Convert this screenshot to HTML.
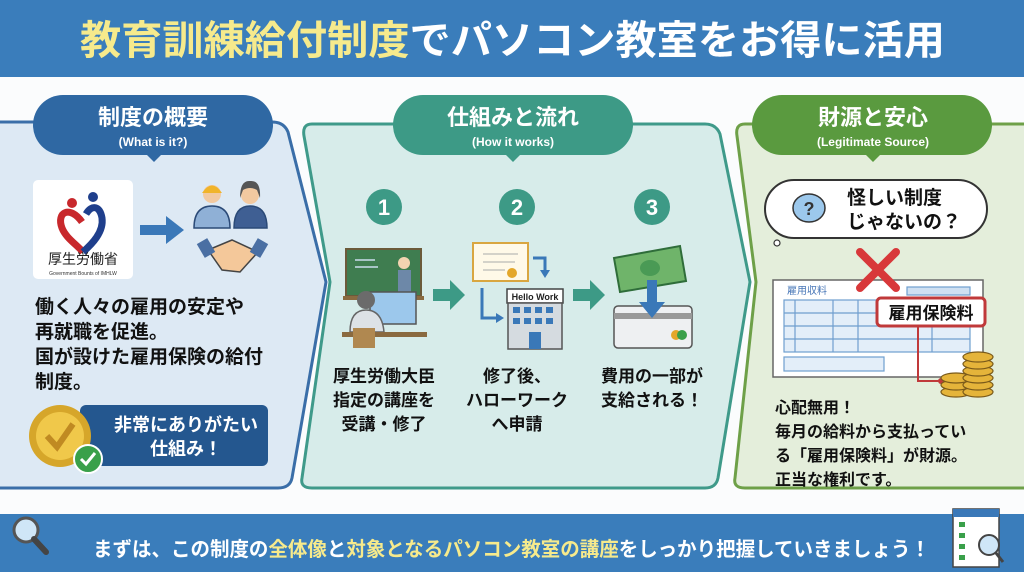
<!DOCTYPE html>
<html><head><meta charset="utf-8"><style>
html,body{margin:0;padding:0;background:#fff;}
svg{display:block;}
text{font-family:"Liberation Sans","Noto Sans CJK JP",sans-serif;font-weight:bold;}
</style></head><body>
<svg width="1024" height="572" viewBox="0 0 1024 572" xmlns="http://www.w3.org/2000/svg">
<rect width="1024" height="572" fill="#fbfcfd"/>
<!-- header -->
<rect x="0" y="0" width="1024" height="77" fill="#3a7dbb"/>
<text x="80" y="54" font-size="40" textLength="865" lengthAdjust="spacingAndGlyphs" fill="#fff"><tspan fill="#f6ea8c">教育訓練給付制度</tspan>でパソコン教室をお得に活用</text>

<!-- left panel -->
<path d="M-10,122 L272,122 Q284,122 288,132 L326,282 L292,478 Q290,488 278,488 L-10,488 Z" fill="#dde9f4" stroke="#3a6ea8" stroke-width="3"/>
<!-- middle panel -->
<path d="M312,124 L705,124 Q716,124 720,134 L750,282 L718,478 Q716,488 705,488 L312,488 Q300,488 302,478 L330,282 L304,136 Q302,124 312,124 Z" fill="#d7ecea" stroke="#3f9a8a" stroke-width="3"/>
<!-- right panel -->
<path d="M745,124 L1030,124 L1030,488 L745,488 Q733,488 735,478 L756,282 L737,136 Q735,124 745,124 Z" fill="#e4eedb" stroke="#6ea048" stroke-width="3"/>

<!-- tabs -->
<rect x="33" y="95" width="240" height="60" rx="30" fill="#2f68a3"/>
<path d="M146,154 L154,162 L162,154 Z" fill="#2f68a3"/>
<text x="153" y="125" font-size="22" text-anchor="middle" fill="#fff">制度の概要</text>
<text x="153" y="146" font-size="12" text-anchor="middle" fill="#fff">(What is it?)</text>

<rect x="393" y="95" width="240" height="60" rx="30" fill="#3d9a86"/>
<path d="M505,154 L513,162 L521,154 Z" fill="#3d9a86"/>
<text x="513" y="125" font-size="22" text-anchor="middle" fill="#fff">仕組みと流れ</text>
<text x="513" y="146" font-size="12" text-anchor="middle" fill="#fff">(How it works)</text>

<rect x="752" y="95" width="240" height="60" rx="30" fill="#5a9a3f"/>
<path d="M865,154 L873,162 L881,154 Z" fill="#5a9a3f"/>
<text x="873" y="125" font-size="22" text-anchor="middle" fill="#fff">財源と安心</text>
<text x="873" y="146" font-size="12" text-anchor="middle" fill="#fff">(Legitimate Source)</text>

<!-- left content -->
<rect x="33" y="180" width="100" height="99" rx="5" fill="#fff"/>
<path d="M82,222 C70,205 56,212 62,228 C66,238 76,244 83,252" fill="none" stroke="#c8282c" stroke-width="7"/>
<path d="M83,252 C92,244 104,232 102,218 C100,206 92,204 86,214" fill="none" stroke="#1f3f8c" stroke-width="7"/>
<circle cx="72" cy="203" r="5" fill="#c8282c"/><circle cx="93" cy="197" r="5" fill="#1f3f8c"/>
<text x="83" y="264" font-size="14" text-anchor="middle" fill="#222" style="font-weight:normal">厚生労働省</text>
<text x="83" y="275" font-size="5" text-anchor="middle" fill="#333" style="font-weight:normal">Government Bounts of IMHLW</text>
<path d="M140,225 L166,225 L166,216 L184,230 L166,244 L166,235 L140,235 Z" fill="#3a78b8"/>
<circle cx="212" cy="194" r="9" fill="#f2c9a0"/><path d="M202,193 Q212,178 222,193 Z" fill="#f0b42a"/>
<path d="M194,228 Q194,206 212,206 Q230,206 230,228 Z" fill="#8fb0d6" stroke="#2b4a77" stroke-width="1.5"/>
<circle cx="250" cy="195" r="9" fill="#f2c9a0"/><path d="M240,198 Q240,180 250,181 Q261,180 260,198 L257,190 Q250,186 243,190 Z" fill="#555"/>
<path d="M234,228 Q234,206 250,206 Q267,206 267,228 Z" fill="#3f5f93" stroke="#2b4a77" stroke-width="1.5"/>
<path d="M208,250 L232,240 L258,252 L240,272 L222,270 Z" fill="#f4c89a" stroke="#444" stroke-width="1.5"/>
<rect x="200" y="240" width="12" height="16" fill="#4a6fa3" transform="rotate(-30 206 248)"/>
<rect x="253" y="240" width="12" height="16" fill="#4a6fa3" transform="rotate(30 259 248)"/>
<g font-size="19" fill="#111">
<text x="35" y="313">働く人々の雇用の安定や</text>
<text x="35" y="338">再就職を促進。</text>
<text x="35" y="363">国が設けた雇用保険の給付</text>
<text x="35" y="388">制度。</text>
</g>
<rect x="80" y="405" width="188" height="61" rx="6" fill="#24578f"/>
<text x="186" y="431" font-size="18" text-anchor="middle" fill="#fff">非常にありがたい</text>
<text x="186" y="455" font-size="18" text-anchor="middle" fill="#fff">仕組み！</text>
<circle cx="60" cy="436" r="31" fill="#d6a62a"/><circle cx="60" cy="436" r="24" fill="#f0c84a"/>
<path d="M47,436 L57,447 L73,424" fill="none" stroke="#c08a22" stroke-width="6"/>
<circle cx="88" cy="459" r="14" fill="#3aa04a" stroke="#fff" stroke-width="2"/>
<path d="M81,459 L86,464 L95,453" fill="none" stroke="#fff" stroke-width="3"/>

<!-- middle content -->
<g fill="#3d9a86"><circle cx="384" cy="207" r="18"/><circle cx="517" cy="207" r="18"/><circle cx="652" cy="207" r="18"/></g>
<g font-size="22" fill="#fff" text-anchor="middle"><text x="384" y="215">1</text><text x="517" y="215">2</text><text x="652" y="215">3</text></g>
<rect x="346" y="249" width="75" height="47" fill="#3f7d50" stroke="#6b5a3a" stroke-width="2"/>
<line x1="355" y1="260" x2="375" y2="260" stroke="#cde" stroke-width="1.5"/><line x1="355" y1="267" x2="378" y2="267" stroke="#cde" stroke-width="1.5"/>
<circle cx="404" cy="263" r="6" fill="#f2d3b0"/><rect x="398" y="270" width="13" height="22" fill="#6d88a8"/>
<rect x="343" y="296" width="81" height="4" fill="#8a6a40"/>
<rect x="370" y="292" width="46" height="32" fill="#9cc8ec" stroke="#555" stroke-width="1.5"/>
<circle cx="366" cy="300" r="9" fill="#6b6b6b"/>
<path d="M350,332 Q350,310 366,310 Q382,310 384,332 Z" fill="#dde2e6" stroke="#666" stroke-width="1.5"/>
<rect x="342" y="332" width="85" height="5" fill="#8a6a40"/><rect x="353" y="328" width="22" height="20" fill="#b08850"/>
<path d="M433,289 L450,289 L450,280 L465,295 L450,310 L450,301 L433,301 Z" fill="#3d9a86"/>
<path d="M573,289 L590,289 L590,280 L605,295 L590,310 L590,301 L573,301 Z" fill="#3d9a86"/>
<rect x="473" y="243" width="55" height="38" fill="#fff9e8" stroke="#d9a640" stroke-width="2"/>
<line x1="483" y1="254" x2="518" y2="254" stroke="#aaa"/><line x1="483" y1="262" x2="515" y2="262" stroke="#aaa"/><line x1="483" y1="270" x2="505" y2="270" stroke="#aaa"/>
<circle cx="512" cy="273" r="5" fill="#e4a72a"/>
<path d="M533,258 L545,258 L545,272" fill="none" stroke="#3a78b8" stroke-width="3"/><path d="M540,270 L550,270 L545,278 Z" fill="#3a78b8"/>
<path d="M482,288 L482,318 L498,318" fill="none" stroke="#3a78b8" stroke-width="3"/><path d="M496,313 L504,318 L496,323 Z" fill="#3a78b8"/>
<rect x="507" y="289" width="56" height="14" fill="#fff" stroke="#444" stroke-width="1.5"/>
<text x="535" y="300" font-size="9" text-anchor="middle" fill="#222">Hello Work</text>
<rect x="508" y="303" width="54" height="46" fill="#d5dbe0" stroke="#555" stroke-width="1.5"/>
<g fill="#3a78b8"><rect x="513" y="307" width="7" height="6"/><rect x="524" y="307" width="7" height="6"/><rect x="535" y="307" width="7" height="6"/><rect x="546" y="307" width="7" height="6"/>
<rect x="513" y="318" width="7" height="6"/><rect x="524" y="318" width="7" height="6"/><rect x="535" y="318" width="7" height="6"/><rect x="546" y="318" width="7" height="6"/>
<rect x="529" y="332" width="12" height="17"/></g>
<path d="M614,258 L680,246 L686,281 L620,292 Z" fill="#6fb46a" stroke="#2f6d3a" stroke-width="2"/>
<ellipse cx="650" cy="268" rx="10" ry="8" fill="#4a9a55"/>
<rect x="614" y="306" width="78" height="42" rx="4" fill="#eef0f2" stroke="#555" stroke-width="1.5"/>
<rect x="614" y="313" width="78" height="6" fill="#999"/>
<circle cx="676" cy="335" r="5" fill="#e4a72a"/><circle cx="682" cy="335" r="5" fill="#3aa04a"/>
<path d="M647,280 L657,280 L657,302 L665,302 L652,318 L639,302 L647,302 Z" fill="#3a78b8"/>
<g font-size="17" fill="#111" text-anchor="middle">
<text x="384" y="382">厚生労働大臣</text><text x="384" y="406">指定の講座を</text><text x="384" y="430">受講・修了</text>
<text x="517" y="382">修了後、</text><text x="517" y="406">ハローワーク</text><text x="517" y="430">へ申請</text>
<text x="652" y="382">費用の一部が</text><text x="652" y="406">支給される！</text>
</g>

<!-- right content -->
<rect x="765" y="180" width="222" height="58" rx="29" fill="#fff" stroke="#333" stroke-width="2"/>
<circle cx="777" cy="243" r="3" fill="#fff" stroke="#333" stroke-width="1.2"/>
<ellipse cx="809" cy="208" rx="16" ry="14" fill="#9cc8ec" stroke="#333" stroke-width="1.5"/>
<text x="809" y="215" font-size="18" text-anchor="middle" fill="#333">?</text>
<text x="847" y="204" font-size="19" fill="#111">怪しい制度</text>
<text x="847" y="228" font-size="19" fill="#111">じゃないの？</text>
<rect x="773" y="280" width="210" height="97" fill="#fff" stroke="#666" stroke-width="1.5"/>
<text x="787" y="294" font-size="10" fill="#4a78b8" style="font-weight:normal">雇用収料</text>
<g fill="none" stroke="#6f9fcf" stroke-width="1.2">
<rect x="784" y="300" width="186" height="52" fill="#e3eef9"/>
<line x1="784" y1="313" x2="970" y2="313"/><line x1="784" y1="326" x2="970" y2="326"/><line x1="784" y1="339" x2="970" y2="339"/>
<line x1="795" y1="300" x2="795" y2="352"/><line x1="833" y1="300" x2="833" y2="352"/><line x1="858" y1="300" x2="858" y2="352"/><line x1="932" y1="300" x2="932" y2="352"/>
<rect x="784" y="357" width="100" height="14" fill="#e3eef9"/><rect x="907" y="287" width="63" height="8" fill="#cfe0f2"/>
</g>
<path d="M860,252 L896,288 M896,252 L860,288" stroke="#d8383a" stroke-width="8" stroke-linecap="round"/>
<rect x="877" y="298" width="108" height="28" rx="4" fill="#fff" stroke="#c0393a" stroke-width="3"/>
<text x="931" y="319" font-size="17" text-anchor="middle" fill="#111">雇用保険料</text>
<path d="M918,326 L918,381 L941,381" fill="none" stroke="#c0393a" stroke-width="2"/><circle cx="941" cy="381" r="3" fill="#c0393a"/>
<g fill="#e5b43a" stroke="#7a5a1a" stroke-width="1.2">
<ellipse cx="956" cy="392" rx="15" ry="5"/><ellipse cx="956" cy="385" rx="15" ry="5"/><ellipse cx="956" cy="378" rx="15" ry="5"/>
<ellipse cx="978" cy="392" rx="15" ry="5"/><ellipse cx="978" cy="385" rx="15" ry="5"/><ellipse cx="978" cy="378" rx="15" ry="5"/><ellipse cx="978" cy="371" rx="15" ry="5"/><ellipse cx="978" cy="364" rx="15" ry="5"/><ellipse cx="978" cy="357" rx="15" ry="5"/>
</g>
<g font-size="16" fill="#111">
<text x="775" y="413">心配無用！</text>
<text x="775" y="437">毎月の給料から支払ってい</text>
<text x="775" y="461">る「雇用保険料」が財源。</text>
<text x="775" y="485">正当な権利です。</text>
</g>

<!-- footer -->
<rect x="0" y="514" width="1024" height="58" fill="#3a7dbb"/>
<circle cx="26" cy="530" r="12" fill="#cfe6f7" stroke="#555" stroke-width="3"/>
<line x1="34" y1="539" x2="46" y2="552" stroke="#444" stroke-width="6" stroke-linecap="round"/>
<text x="93" y="556" font-size="20" textLength="837" lengthAdjust="spacingAndGlyphs" fill="#fff">まずは、この制度の<tspan fill="#f6ea8c">全体像</tspan>と<tspan fill="#f6ea8c">対象となるパソコン教室の講座</tspan>をしっかり把握していきましょう！</text>
<rect x="953" y="509" width="46" height="58" fill="#fff" stroke="#444" stroke-width="1.5"/>
<rect x="953" y="509" width="46" height="8" fill="#3a78b8"/>
<g fill="#3aa04a"><rect x="959" y="522" width="6" height="5"/><rect x="959" y="533" width="6" height="5"/><rect x="959" y="544" width="6" height="5"/><rect x="959" y="555" width="6" height="5"/></g>
<circle cx="989" cy="545" r="10" fill="#cfe6f7" stroke="#444" stroke-width="2"/>
<line x1="996" y1="553" x2="1003" y2="562" stroke="#444" stroke-width="3"/>
</svg>
</body></html>
